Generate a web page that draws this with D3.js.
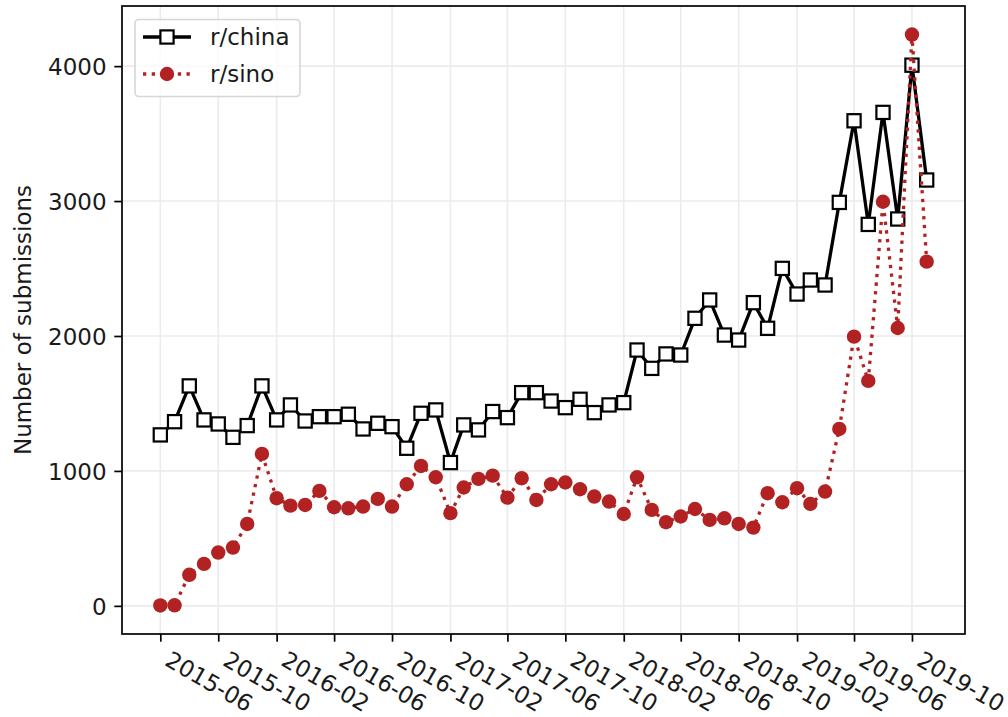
<!DOCTYPE html>
<html>
<head>
<meta charset="utf-8">
<script src="https://cdn.jsdelivr.net/npm/d3@7"></script>
<style>
  body { margin: 0; background: #fff; }
  svg { display: block; }
  text { font-family: "DejaVu Sans", sans-serif; fill: #1a1a1a; }
</style>
</head>
<body>
<svg id="chart" width="1008" height="717"></svg>
<script>
// Monthly submission counts, June 2015 – November 2019
const months = [
  "2015-06","2015-07","2015-08","2015-09","2015-10","2015-11","2015-12",
  "2016-01","2016-02","2016-03","2016-04","2016-05","2016-06","2016-07","2016-08","2016-09","2016-10","2016-11","2016-12",
  "2017-01","2017-02","2017-03","2017-04","2017-05","2017-06","2017-07","2017-08","2017-09","2017-10","2017-11","2017-12",
  "2018-01","2018-02","2018-03","2018-04","2018-05","2018-06","2018-07","2018-08","2018-09","2018-10","2018-11","2018-12",
  "2019-01","2019-02","2019-03","2019-04","2019-05","2019-06","2019-07","2019-08","2019-09","2019-10","2019-11"
];
const chinaCounts = [
  1267, 1365, 1630, 1378, 1348, 1249, 1336,
  1630, 1378, 1489, 1370, 1402, 1402, 1420, 1311, 1353, 1328, 1168, 1427,
  1452, 1062, 1341, 1304, 1440, 1395, 1580, 1580, 1518, 1469, 1531, 1432,
  1489, 1506, 1896, 1760, 1867, 1859, 2131, 2267, 2007, 1970, 2247, 2057,
  2501, 2311, 2415, 2378, 2990, 3595, 2827, 3657, 2867, 4007, 3156
];
const sinoCounts = [
  3, 4, 230, 311, 395, 432, 607,
  1126, 798, 743, 748, 852, 731, 723, 736, 793, 736, 901, 1037,
  953, 687, 877, 941, 965, 802, 946, 785, 901, 914, 864, 810,
  773, 681, 953, 711, 620, 662, 718, 637, 649, 607, 580, 835,
  768, 872, 756, 847, 1311, 1995, 1667, 2995, 2059, 4234, 2551
];
const seriesNames = ["r/china", "r/sino"];
const xTickLabels = [
  "2015-06","2015-10","2016-02","2016-06","2016-10","2017-02","2017-06",
  "2017-10","2018-02","2018-06","2018-10","2019-02","2019-06","2019-10"
];
const yTickValues = [0, 1000, 2000, 3000, 4000];
const yLabel = "Number of submissions";

const parseMonth = d3.timeParse("%Y-%m");
const fmtMonth = d3.timeFormat("%Y-%m");
const dates = months.map(parseMonth);

// Plot box
const boxL = 122, boxR = 965, boxT = 6, boxB = 634;
const fs = 23;                 // base font size
const lw = 3.3;                // line width
const tickLen = 7.7, tickPad = 7.7;
const red = "#b22222";

const svg = d3.select("#chart");

// Scales with 5% padding on each side of the data range
const [t0, t1] = d3.extent(dates);
const tPad = (t1 - t0) * 0.05;
const x = d3.scaleTime()
  .domain([new Date(+t0 - tPad), new Date(+t1 + tPad)])
  .range([boxL, boxR]);

const allVals = chinaCounts.concat(sinoCounts);
const [v0, v1] = d3.extent(allVals);
const vPad = (v1 - v0) * 0.05;
const y = d3.scaleLinear()
  .domain([v0 - vPad, v1 + vPad])
  .range([boxB, boxT]);

const xTicks = xTickLabels.map(parseMonth);

// Grid
const grid = svg.append("g").attr("stroke", "#ebebeb").attr("stroke-width", 1.6);
grid.selectAll(".gx").data(xTicks).join("line")
  .attr("x1", d => x(d)).attr("x2", d => x(d))
  .attr("y1", boxT).attr("y2", boxB);
grid.selectAll(".gy").data(yTickValues).join("line")
  .attr("x1", boxL).attr("x2", boxR)
  .attr("y1", d => y(d)).attr("y2", d => y(d));

// Axes
const xAxis = d3.axisBottom(x).tickValues(xTicks).tickSize(tickLen).tickPadding(tickPad)
  .tickFormat(fmtMonth);
const gx = svg.append("g").attr("transform", `translate(0,${boxB})`).call(xAxis);
gx.select(".domain").remove();
gx.selectAll(".tick line").attr("stroke", "#000").attr("stroke-width", 1.7);
gx.selectAll(".tick text")
  .attr("font-size", fs)
  .attr("font-family", "DejaVu Sans, sans-serif")
  .attr("text-anchor", "start")
  .attr("y", null).attr("dy", null)
  .attr("transform", `translate(2.7,${tickLen + tickPad + 15.2}) rotate(30)`);

const yAxis = d3.axisLeft(y).tickValues(yTickValues).tickSize(tickLen).tickPadding(tickPad)
  .tickFormat(d3.format("d"));
const gy = svg.append("g").attr("transform", `translate(${boxL},0)`).call(yAxis);
gy.select(".domain").remove();
gy.selectAll(".tick line").attr("stroke", "#000").attr("stroke-width", 1.7);
gy.selectAll(".tick text").attr("font-size", fs)
  .attr("font-family", "DejaVu Sans, sans-serif").attr("dy", "0.36em");

// Y axis title
svg.append("text")
  .attr("transform", `translate(31,${(boxT + boxB) / 2}) rotate(-90)`)
  .attr("text-anchor", "middle")
  .attr("font-size", fs)
  .text(yLabel);

// Series
const china = dates.map((d, i) => ({ d, v: chinaCounts[i] }));
const sino = dates.map((d, i) => ({ d, v: sinoCounts[i] }));
const line = d3.line().x(p => x(p.d)).y(p => y(p.v));

const plot = svg.append("g");
const mk = 13.2;

plot.append("path").datum(china)
  .attr("d", line).attr("fill", "none")
  .attr("stroke", "#000").attr("stroke-width", lw).attr("stroke-linejoin", "round");
plot.selectAll(".sq").data(china).join("rect")
  .attr("x", p => x(p.d) - mk / 2).attr("y", p => y(p.v) - mk / 2)
  .attr("width", mk).attr("height", mk)
  .attr("fill", "#fff").attr("stroke", "#000").attr("stroke-width", 2.2);

plot.append("path").datum(sino)
  .attr("d", line).attr("fill", "none")
  .attr("stroke", red).attr("stroke-width", lw)
  .attr("stroke-dasharray", "3.3,5.4");
plot.selectAll(".ci").data(sino).join("circle")
  .attr("cx", p => x(p.d)).attr("cy", p => y(p.v))
  .attr("r", mk / 2 + 0.6)
  .attr("fill", red);

// Frame
svg.append("rect")
  .attr("x", boxL).attr("y", boxT)
  .attr("width", boxR - boxL).attr("height", boxB - boxT)
  .attr("fill", "none").attr("stroke", "#000").attr("stroke-width", 1.7);

// Legend
const lg = svg.append("g");
lg.append("rect")
  .attr("x", 135).attr("y", 19.5).attr("width", 165).attr("height", 77)
  .attr("rx", 4).attr("fill", "#fff").attr("fill-opacity", 0.8)
  .attr("stroke", "#d6d6d6").attr("stroke-width", 1.6);
const rowY = [37, 74];
const hx0 = 143, hx1 = 191, hxm = 167;
// r/china handle
lg.append("line").attr("x1", hx0).attr("x2", hx1).attr("y1", rowY[0]).attr("y2", rowY[0])
  .attr("stroke", "#000").attr("stroke-width", lw);
lg.append("rect").attr("x", hxm - mk / 2).attr("y", rowY[0] - mk / 2)
  .attr("width", mk).attr("height", mk)
  .attr("fill", "#fff").attr("stroke", "#000").attr("stroke-width", 2.2);
// r/sino handle
lg.append("line").attr("x1", hx0).attr("x2", hx1).attr("y1", rowY[1]).attr("y2", rowY[1])
  .attr("stroke", red).attr("stroke-width", lw).attr("stroke-dasharray", "3.3,5.4");
lg.append("circle").attr("cx", hxm).attr("cy", rowY[1]).attr("r", mk / 2 + 0.6).attr("fill", red);
lg.selectAll(".lt").data(seriesNames).join("text")
  .attr("x", 210).attr("y", (d, i) => rowY[i])
  .attr("dy", "0.36em")
  .attr("font-size", fs)
  .text(d => d);
</script>
</body>
</html>
